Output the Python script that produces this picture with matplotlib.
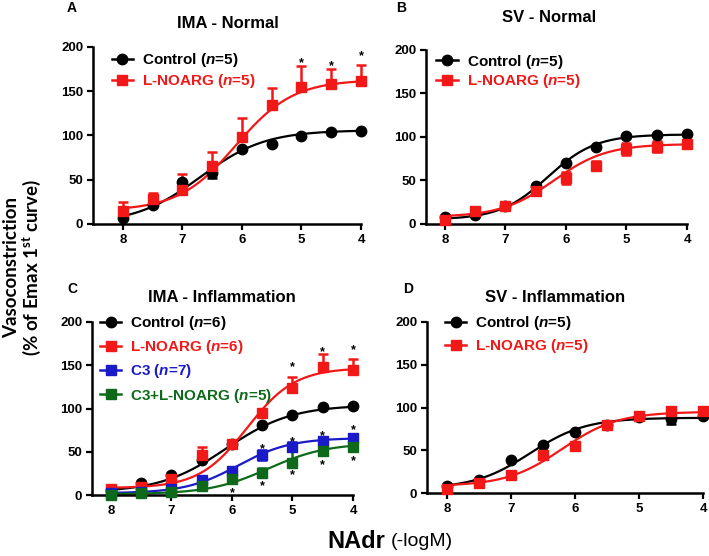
import numpy as np
import matplotlib
matplotlib.use("Agg")
import matplotlib.pyplot as plt

plt.rcParams['font.family'] = ['Liberation Sans', 'DejaVu Sans']
plt.rcParams['font.weight'] = 'bold'
plt.rcParams['mathtext.fontset'] = 'custom'
plt.rcParams['mathtext.it'] = 'Liberation Sans:italic:bold'
plt.rcParams['mathtext.rm'] = 'Lato:bold'

# -log[NAdr] concentrations
conc = [8, 7.5, 7, 6.5, 6, 5.5, 5, 4.5, 4]

# panel A: IMA - Normal
a_ctrl = [7, 22, 47, 58, 85, 90, 99, 104, 105]
a_ctrl_err = [0, 0, 5, 6, 0, 0, 0, 0, 0]
a_lno = [15, 28, 38, 65, 98, 134, 155, 158, 162]
a_lno_err = [10, 7, 19, 16, 22, 20, 23, 17, 18]
a_star_x = [5, 4.5, 4]
a_star_y = [186, 183, 194]

# panel B: SV - Normal
b_ctrl = [8, 10, 21, 44, 70, 89, 101, 102, 104]
b_ctrl_err = [0, 0, 0, 7, 0, 0, 0, 0, 0]
b_lno = [5, 15, 21, 38, 53, 67, 86, 89, 92]
b_lno_err = [2, 3, 4, 3, 7, 5, 7, 6, 3]

# panel C: IMA - Inflammation
c_ctrl = [6, 14, 23, 40, 59, 81, 93, 102, 103]
c_lno = [7, 9, 19, 46, 59, 95, 124, 148, 144]
c_lno_err = [0, 0, 0, 9, 0, 0, 12, 15, 13]
c_c3 = [2, 3, 7, 17, 28, 46, 56, 62, 66]
c_c3_err = [0, 0, 0, 0, 0, 6, 5, 5, 5]
c_c3l = [0, 2, 3, 10, 18, 26, 37, 51, 56]
c_c3l_err = [0, 0, 0, 2, 4, 5, 14, 10, 12]
c_lno_star_x = [5, 4.5, 4]
c_lno_star_y = [152, 170, 172]
c_c3_star_x = [5.5, 5, 4.5, 4]
c_c3_star_y = [58, 66, 72, 79]
c_c3l_star_x = [6, 5.5, 5, 4.5, 4]
c_c3l_star_y = [7, 15, 27, 39, 44]

# panel D: SV - Inflammation
d_ctrl = [8, 15, 39, 56, 71, 80, 89, 86, 90]
d_ctrl_err = [0, 0, 0, 0, 0, 0, 0, 5, 0]
d_lno = [5, 12, 21, 44, 55, 79, 90, 96, 96]

# sigmoid fit parameters: bottom, top, pEC50, hill
fit_a_ctrl = (0, 106, 6.7, 0.8)
fit_a_lno = (15, 163, 6.1, 0.9)
fit_b_ctrl = (5, 103, 6.3, 1.1)
fit_b_lno = (8, 92, 6.2, 1.0)
fit_c_ctrl = (3, 104, 6.1, 0.8)
fit_c_lno = (8, 147, 5.75, 1.1)
fit_c_c3 = (2, 66, 5.9, 1.0)
fit_c_c3l = (1, 60, 5.4, 0.9)
fit_d_ctrl = (5, 88, 6.7, 1.0)
fit_d_lno = (8, 95, 6.2, 1.0)

BLACK = '#000000'
RED = '#f21818'
BLUE = '#1a1ac8'
GREEN = '#0e6a1a'


def curve(ax, fit, color):
    bot, top, p, h = fit
    xs = np.linspace(8, 4, 200)
    ys = bot + (top - bot) / (1 + 10 ** ((xs - p) * h))
    ax.plot(xs, ys, color=color, lw=1.6, zorder=2)


def series(ax, y, err, color, marker, label, fit, side='both', ms=7.5):
    curve(ax, fit, color)
    if err is not None:
        e = np.array(err)
        z = np.zeros_like(e)
        if side == 'up':
            yerr = [z, e]
        elif side == 'down':
            yerr = [e, z]
        else:
            yerr = [e, e]
        ax.errorbar(conc, y, yerr=yerr, fmt='none', ecolor=color, elinewidth=1.8,
                    capsize=3.5, capthick=1.8, zorder=3, clip_on=False)
    ax.plot(conc, y, marker=marker, color=color, ms=ms, lw=0, zorder=4, clip_on=False)
    # legend proxy
    ax.plot([], [], marker=marker, color=color, ms=ms, lw=1.8, label=label)


def style(ax, xleft):
    ax.set_xlim(xleft, 4)
    ax.set_ylim(0, 200)
    ax.set_xticks([8, 7, 6, 5, 4])
    ax.set_yticks([0, 50, 100, 150, 200])
    for s in ['top', 'right']:
        ax.spines[s].set_visible(False)
    for s in ['left', 'bottom']:
        ax.spines[s].set_linewidth(1.8)
    ax.tick_params(direction='out', length=4, width=1.6, labelsize=9.5, pad=3)
    for lab in ax.get_xticklabels() + ax.get_yticklabels():
        lab.set_fontweight('bold')


def legend(ax, anchor, spacing, colors):
    leg = ax.legend(loc='upper left', bbox_to_anchor=anchor, frameon=False,
                    borderpad=0, borderaxespad=0, handlelength=1.4,
                    handletextpad=0.6, labelspacing=spacing,
                    prop={'size': 11, 'weight': 'bold'})
    for t, c in zip(leg.get_texts(), colors):
        t.set_color(c)


def stars(ax, xs, ys):
    # baseline shifted down so the asterisk glyph is centred on the value
    for x, y in zip(xs, ys):
        ax.annotate('*', xy=(x, y), xytext=(0, -5), textcoords='offset points',
                    ha='center', va='baseline', fontsize=9, color='black', zorder=6,
                    annotation_clip=False)


W, H = 709, 556
fig = plt.figure(figsize=(W / 100, H / 100), dpi=100)


def axes_px(left, top, right, bottom):
    return fig.add_axes([left / W, 1 - bottom / H, (right - left) / W, (bottom - top) / H])


axA = axes_px(93, 47, 361, 224)
axB = axes_px(426, 50, 687, 224)
axC = axes_px(92, 322, 353, 495)
axD = axes_px(427, 322, 703, 493)

# A
series(axA, a_ctrl, a_ctrl_err, BLACK, 'o', r'Control ($n$=5)', fit_a_ctrl, 'down')
series(axA, a_lno, a_lno_err, RED, 's', r'L-NOARG ($n$=5)', fit_a_lno, 'up')
stars(axA, a_star_x, a_star_y)
style(axA, 8.5)
legend(axA, (0.07, 0.975), 0.2, [BLACK, RED])

# B
series(axB, b_ctrl, b_ctrl_err, BLACK, 'o', r'Control ($n$=5)', fit_b_ctrl, 'down')
series(axB, b_lno, b_lno_err, RED, 's', r'L-NOARG ($n$=5)', fit_b_lno)
style(axB, 8.31)
legend(axB, (0.04, 0.985), 0.1, [BLACK, RED])

# C
series(axC, c_ctrl, None, BLACK, 'o', r'Control ($n$=6)', fit_c_ctrl)
series(axC, c_lno, c_lno_err, RED, 's', r'L-NOARG ($n$=6)', fit_c_lno, 'up')
series(axC, c_c3, c_c3_err, BLUE, 's', r'C3 ($n$=7)', fit_c_c3)
series(axC, c_c3l, c_c3l_err, GREEN, 's', r'C3+L-NOARG ($n$=5)', fit_c_c3l, 'up')
stars(axC, c_lno_star_x, c_lno_star_y)
stars(axC, c_c3_star_x, c_c3_star_y)
stars(axC, c_c3l_star_x, c_c3l_star_y)
style(axC, 8.31)
legend(axC, (0.03, 1.045), 0.4, [BLACK, RED, BLUE, GREEN])

# D
series(axD, d_ctrl, d_ctrl_err, BLACK, 'o', r'Control ($n$=5)', fit_d_ctrl)
series(axD, d_lno, None, RED, 's', r'L-NOARG ($n$=5)', fit_d_lno)
style(axD, 8.31)
legend(axD, (0.065, 1.045), 0.3, [BLACK, RED])

# titles and panel letters
fig.text(228 / W, 1 - 23 / H, 'IMA - Normal', ha='center', va='center', fontsize=12, fontweight='bold')
fig.text(549 / W, 1 - 18 / H, 'SV - Normal', ha='center', va='center', fontsize=12, fontweight='bold')
fig.text(222 / W, 1 - 297 / H, 'IMA - Inflammation', ha='center', va='center', fontsize=12, fontweight='bold')
fig.text(555 / W, 1 - 297 / H, 'SV - Inflammation', ha='center', va='center', fontsize=12, fontweight='bold')
fig.text(72 / W, 1 - 8 / H, 'A', ha='center', va='center', fontsize=10, fontweight='bold')
fig.text(401 / W, 1 - 8 / H, 'B', ha='center', va='center', fontsize=10, fontweight='bold')
fig.text(72 / W, 1 - 289 / H, 'C', ha='center', va='center', fontsize=10, fontweight='bold')
fig.text(408 / W, 1 - 289 / H, 'D', ha='center', va='center', fontsize=10, fontweight='bold')

# axis labels
fig.text(23 / W, 1 - 267 / H, 'Vasoconstriction\n(% of Emax 1$^{\\mathrm{st}}$ curve)', rotation=90,
         ha='center', va='center', multialignment='center', fontsize=13.5,
         fontweight='bold', family=['Lato', 'DejaVu Sans'], linespacing=1.0)
fig.text(327 / W, 1 - 541 / H, 'NAdr', ha='left', va='center', fontsize=17, fontweight='bold')
fig.text(391 / W, 1 - 541 / H, '(-logM)', ha='left', va='center', fontsize=14, fontweight='normal')

fig.savefig('out.png', dpi=100)
